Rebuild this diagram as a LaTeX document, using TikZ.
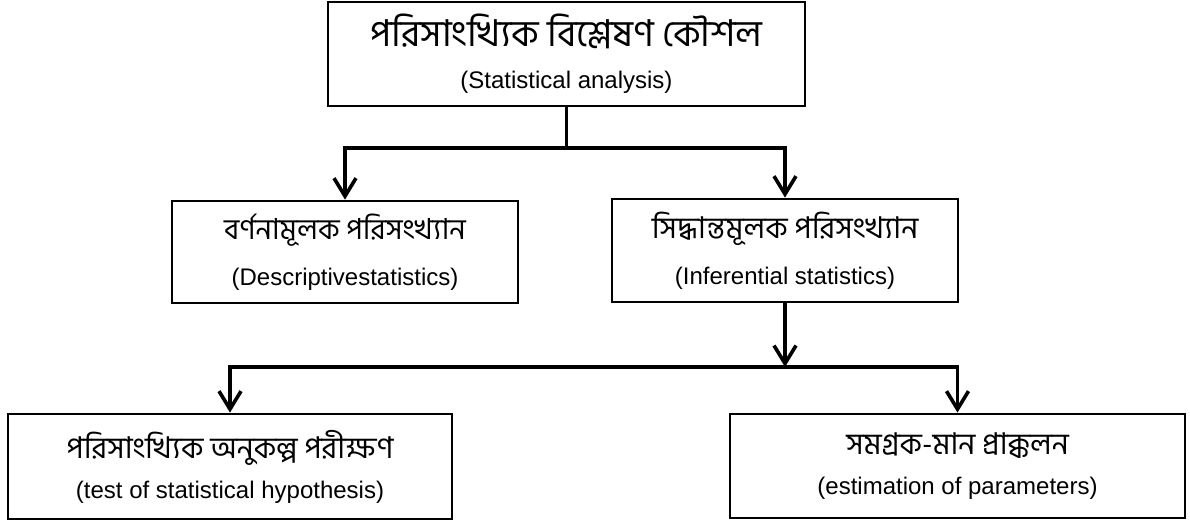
\documentclass[tikz,border=0pt]{standalone}
\usepackage{fontspec}
\setmainfont{Liberation Sans}
\newfontfamily\bn[Script=Bengali]{Hind Siliguri}
\usetikzlibrary{arrows.meta}

\begin{document}
\begin{tikzpicture}[x=0.5pt,y=-0.5pt,
        box/.style={draw,line width=1.4pt,align=center,inner sep=0pt,
                    font=\fontsize{12}{13}\selectfont},
        arr/.style={line width=1.8pt,-{Straight Barb[length=9pt,width=11pt,line width=1.8pt]}}]
        \useasboundingbox (0,0) rectangle (1190,523);
        % boxes
        \node[box,minimum width=238.5pt,minimum height=52pt] (stat) at (566.5,54)
            {{\bn\fontsize{18.5}{20}\selectfont পরিসাংখ্যিক বিশ্লেষণ কৌশল}\\[8pt](Statistical analysis)};
        \node[box,minimum width=173pt,minimum height=51pt] (desc) at (345,252)
            {{\bn\fontsize{14.5}{17}\selectfont বর্ণনামূলক পরিসংখ্যান}\\[10pt](Descriptivestatistics)};
        \node[box,minimum width=173pt,minimum height=51.5pt] (infer) at (785,250.5)
            {{\bn\fontsize{15}{17}\selectfont সিদ্ধান্তমূলক পরিসংখ্যান}\\[10pt](Inferential statistics)};
        \node[box,minimum width=222pt,minimum height=52.5pt] (test) at (230,466.5)
            {{\bn\fontsize{15}{17}\selectfont পরিসাংখ্যিক অনুকল্প পরীক্ষণ}\\[7pt](test of statistical hypothesis)};
        \node[box,minimum width=227.5pt,minimum height=52pt] (est) at (957.5,466)
            {{\bn\fontsize{15}{17}\selectfont সমগ্রক-মান প্রাক্কলন}\\[7pt](estimation of parameters)};
        % joints
        \coordinate (j1) at (566.5,148);
        \coordinate (j2) at (785,367);
        % connectors
        \draw[line width=1.8pt] (stat) -- (j1);
        \draw[arr] (j1) -| (desc);
        \draw[arr] (j1) -| (infer);
        \draw[arr] (infer) -- (j2);
        \draw[arr] (j2) -| (test);
        \draw[arr] (j2) -| (est);
\end{tikzpicture}
\end{document}
